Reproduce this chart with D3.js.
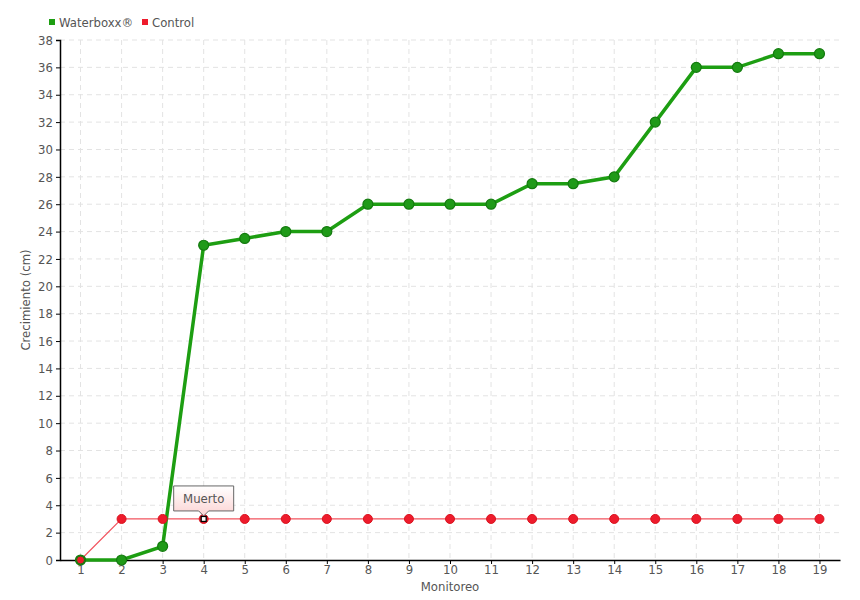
<!DOCTYPE html>
<html><head><meta charset="utf-8">
<script src="https://cdn.jsdelivr.net/npm/d3@7"></script>
<style>
body{margin:0;background:#fff;}
text{font-family:"DejaVu Sans Condensed","DejaVu Sans",sans-serif;font-stretch:condensed;fill:#555;}
</style></head>
<body><svg id="c" width="860" height="600"></svg>
<script>
const monitoreo = [1,2,3,4,5,6,7,8,9,10,11,12,13,14,15,16,17,18,19];
const waterboxx = [0,0,1,23,23.5,24,24,26,26,26,26,27.5,27.5,28,32,36,36,37,37];
const control = [0,3,3,3,3,3,3,3,3,3,3,3,3,3,3,3,3,3,3];
const yTicks = [0,2,4,6,8,10,12,14,16,18,20,22,24,26,28,30,32,34,36,38];
const seriesNames = ["Waterboxx®","Control"];
const annotIndex = 3, annotText = "Muerto";

const svg = d3.select("#c");
const L=60,R=840,T=40,B=560;
const x = d3.scaleLinear().domain([0.5,19.5]).range([L,R]);
const y = d3.scaleLinear().domain([0,38]).range([B,T]);

// grid
const g = svg.append("g");
g.selectAll(".hg").data(yTicks.filter(d=>d>0)).enter().append("line")
 .attr("x1",L).attr("x2",R).attr("y1",d=>y(d)).attr("y2",d=>y(d))
 .attr("stroke","#e3e3e3").attr("stroke-dasharray","5,4");
g.selectAll(".vg").data(monitoreo).enter().append("line")
 .attr("x1",d=>x(d)).attr("x2",d=>x(d)).attr("y1",T).attr("y2",B)
 .attr("stroke","#e3e3e3").attr("stroke-dasharray","5,4");

// axes
const ya = svg.append("g").attr("transform",`translate(${L},0)`)
 .call(d3.axisLeft(y).tickValues(yTicks).tickSize(4).tickPadding(3));
ya.select(".domain").attr("stroke","#000").attr("stroke-width",1.5);
ya.selectAll(".tick line").attr("stroke","#000");
ya.selectAll("text").style("font-size","13px").attr("fill","#555");
ya.selectAll(".tick line").attr("x2",-4).attr("x1",1);

const xa = svg.append("g").attr("transform",`translate(0,${B})`)
 .call(d3.axisBottom(x).tickValues(monitoreo).tickFormat(d3.format("d")).tickSize(4).tickPadding(1).tickSizeOuter(0));
xa.select(".domain").attr("stroke","#000").attr("stroke-width",1.5);
xa.selectAll(".tick line").attr("stroke","#000");
xa.selectAll("text").style("font-size","13px").attr("fill","#555");

svg.append("text").attr("x",450).attr("y",591).attr("text-anchor","middle").style("font-size","13px").text("Monitoreo");
svg.append("text").attr("transform","translate(30,300) rotate(-90)").attr("text-anchor","middle").style("font-size","13px").text("Crecimiento (cm)");

// defs
const defs = svg.append("defs");
const gr = defs.append("linearGradient").attr("id","tip").attr("x1",0).attr("y1",0).attr("x2",0).attr("y2",1);
gr.append("stop").attr("offset","0").attr("stop-color","#ffffff");
gr.append("stop").attr("offset","1").attr("stop-color","#fcd3d3");

// control line
const line = d3.line().x((d,i)=>x(monitoreo[i])).y(d=>y(d));
svg.append("path").datum(control).attr("d",line).attr("fill","none").attr("stroke","#f2545f").attr("stroke-width",1.2);
// waterboxx line
svg.append("path").datum(waterboxx).attr("d",line).attr("fill","none").attr("stroke","#1d9e12").attr("stroke-width",3.5);

svg.selectAll(".cp").data(control).enter().append("circle")
 .attr("cx",(d,i)=>x(monitoreo[i])).attr("cy",d=>y(d)).attr("r",4.5)
 .attr("fill","#ee1b2c").attr("stroke","#d9141f").attr("stroke-width",1);
svg.selectAll(".wp").data(waterboxx).enter().append("circle")
 .attr("cx",(d,i)=>x(monitoreo[i])).attr("cy",d=>y(d)).attr("r",5)
 .attr("fill","#1f9a18").attr("stroke","#137a0e").attr("stroke-width",1.2);
// first control point drawn over green
svg.append("circle").attr("cx",x(monitoreo[0])).attr("cy",y(control[0])).attr("r",4)
 .attr("fill","#ee1b2c").attr("stroke","#137a0e").attr("stroke-width",1);

// annotation
const ax = x(monitoreo[annotIndex]), ay = y(control[annotIndex]);
svg.append("rect").attr("x",ax-2.5).attr("y",ay-2.5).attr("width",5).attr("height",5)
 .attr("fill","#fff").attr("stroke","#000").attr("stroke-width",1.3);
const bx=ax-30, by=ay-33, bw=60, bh=25;
svg.append("path").attr("d",`M${bx},${by}H${bx+bw}V${by+bh}H${ax+5}L${ax},${by+bh+5}L${ax-5},${by+bh}H${bx}Z`)
 .attr("fill","url(#tip)").attr("stroke","#666").attr("stroke-width",1);
svg.append("text").attr("x",ax).attr("y",by+17).attr("text-anchor","middle").style("font-size","13px").text(annotText);

// legend
const lg = svg.append("g");
const colors = ["#1d9e12","#ee1b2c"];
const lx = [49,142];
seriesNames.forEach((n,i)=>{
  lg.append("rect").attr("x",lx[i]).attr("y",19).attr("width",6).attr("height",6).attr("fill",colors[i]);
  lg.append("text").attr("x",lx[i]+10).attr("y",27).style("font-size","13px").text(n);
});
</script></body></html>
